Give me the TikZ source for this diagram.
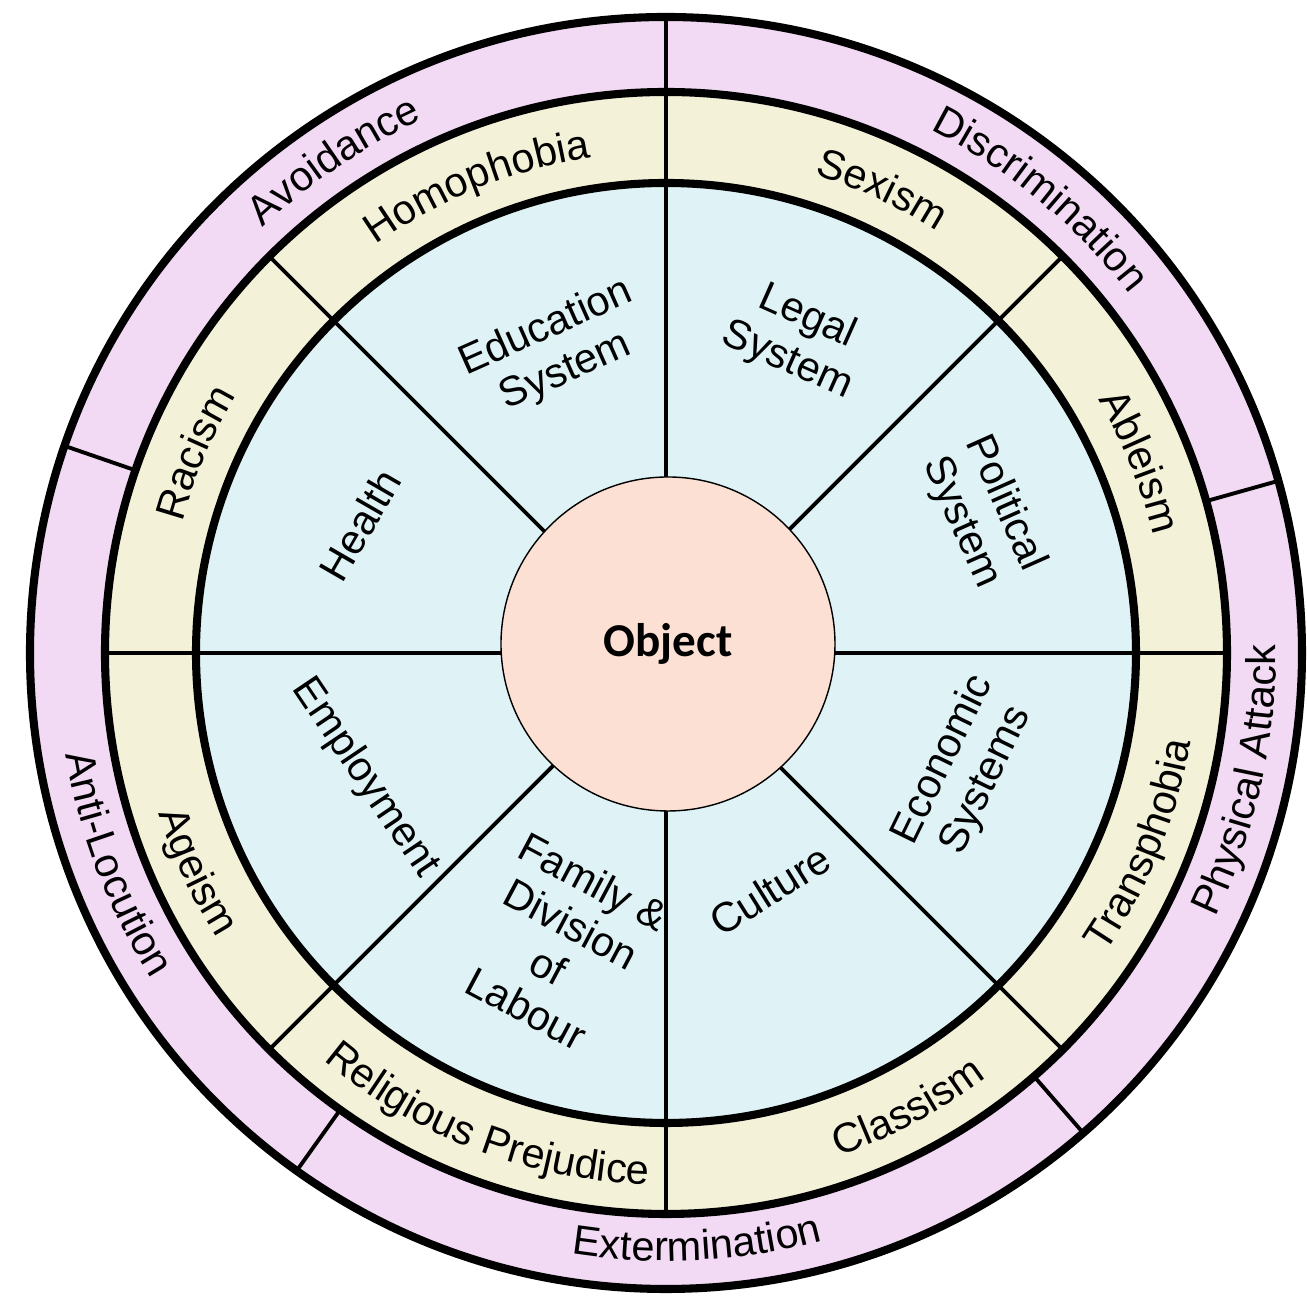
\documentclass[tikz,border=0pt]{standalone}
\usepackage{fontspec}
\setmainfont{Liberation Sans}
\newfontfamily\objfont{Carlito}
\usetikzlibrary{decorations.text}

\definecolor{ringpink}{HTML}{F2D9F4}
\definecolor{ringcream}{HTML}{F3F1D8}
\definecolor{ringblue}{HTML}{DFF3F6}
\definecolor{objpeach}{HTML}{FBE0D3}

\newcommand{\ringfont}{\fontsize{11.8}{13.6}\selectfont}
% text along a ring, clockwise (letters face outward) or counter-clockwise (letters face inward)
\newcommand{\cwtext}[3]{\path[decorate,decoration={text along path,text align=center,text={|\ringfont|#3}}] ({#2+45}:#1) arc[start angle={#2+45},end angle={#2-45},radius=#1];}
\newcommand{\ccwtext}[3]{\path[decorate,decoration={text along path,text align=center,text={|\ringfont|#3}}] ({#2-45}:#1) arc[start angle={#2-45},end angle={#2+45},radius=#1];}

\begin{document}
\begin{tikzpicture}[
      ring/.style={line width=2.3pt},
      divider/.style={line width=1.1pt},
      sect/.style={align=center,font=\ringfont,inner sep=0pt}
    ]
    \useasboundingbox (-6.66,-6.47) rectangle (6.41,6.53);

    % rings
    \fill[ringpink] (0,0) circle (6.36);
    \fill[ringcream] (0,0) circle (5.61);
    \fill[ringblue] (0,0) circle (4.70);

    \foreach \a in {0,45,...,315}
      \draw[divider] (\a:0) -- (\a:5.61);
    \foreach \a in {90,161,234.5,311,15.7}
      \draw[divider] (\a:5.61) -- (\a:6.36);

    \draw[ring] (0,0) circle (4.70);
    \draw[ring] (0,0) circle (5.61);
    \draw[ring] (0,0) circle (6.36);

    \node[circle,draw,thin,fill=objpeach,minimum size=3.34cm,inner sep=0pt,font=\objfont\bfseries\fontsize{13.4}{16}\selectfont] (obj) at (0.02,0.09) {Object};

    % inner sectors
    \node[sect,rotate=24] (edu) at (-1.10,3.03) {Education\\System};
    \node[sect,rotate=-24] (legal) at (1.31,3.14) {Legal\\System};
    \node[sect,rotate=-66] (pol) at (3.17,1.40) {Political\\System};
    \node[sect,rotate=64] (eco) at (2.99,-1.17) {Economic\\Systems};
    \node[sect,rotate=32] (cult) at (1.04,-2.37) {Culture};
    \node[sect,rotate=-28] (fam) at (-1.06,-2.92) {Family \&\\Division\\of\\Labour};
    \node[sect,rotate=-56] (emp) at (-3.01,-1.25) {Employment};
    \node[sect,rotate=60] (health) at (-3.06,1.28) {Health};

    % middle ring
    \cwtext{5.01}{112}{Homophobia}
    \cwtext{5.01}{65}{Sexism}
    \cwtext{5.01}{22}{Ableism}
    \ccwtext{5.32}{-22}{Transphobia}
    \ccwtext{5.32}{-62}{Classism}
    \ccwtext{5.32}{-111}{Religious Prejudice}
    \ccwtext{5.32}{205}{Ageism}
    \cwtext{5.01}{157}{Racism}

    % outer ring
    \cwtext{5.86}{124}{Avoidance}
    \cwtext{5.86}{50.5}{Discrimination}
    \ccwtext{6.10}{-12.5}{Physical Attack}
    \ccwtext{6.08}{-87}{Extermination}
    \ccwtext{6.09}{201}{Anti-Locution}

  \end{tikzpicture}
\end{document}
